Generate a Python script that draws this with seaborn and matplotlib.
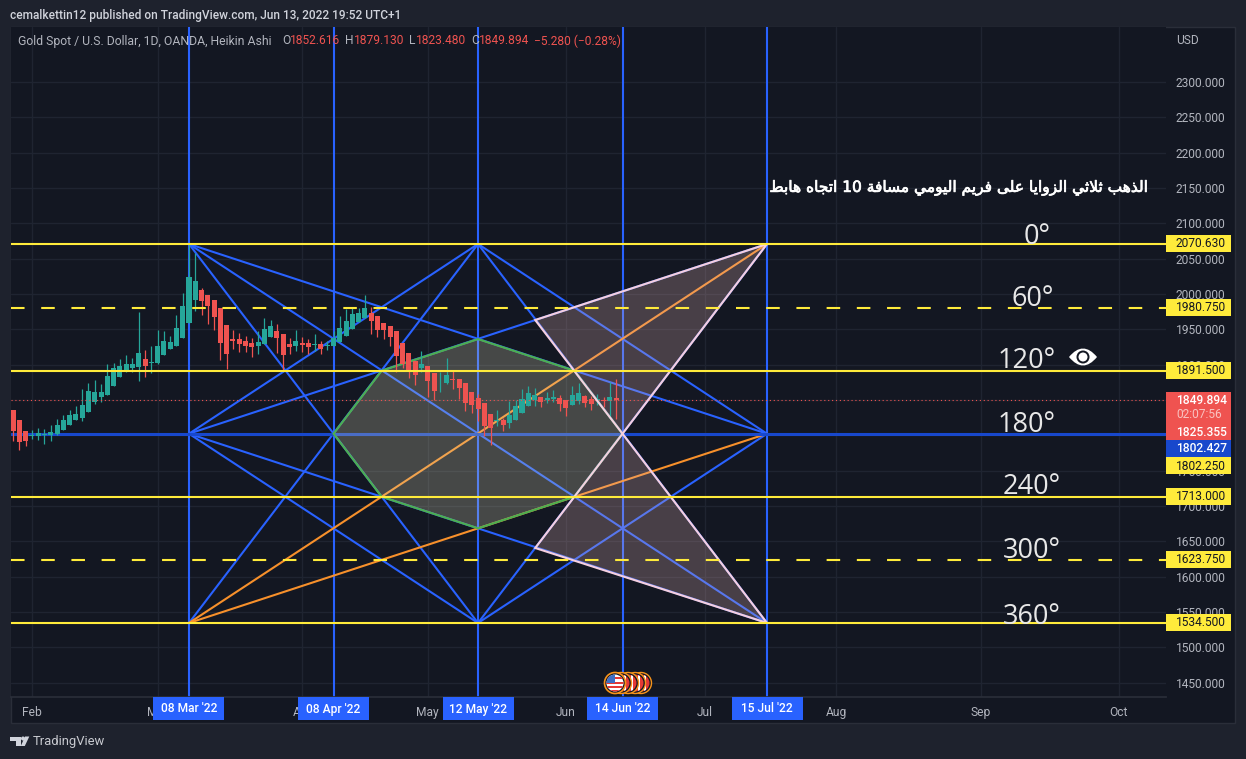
#!/usr/bin/env python
# Gold daily chart with the triple angle drawing, TradingView dark look

import pandas as pd
import seaborn as sns
import matplotlib.pyplot as plt
import matplotlib.patheffects as pe
from matplotlib.patches import Rectangle, Ellipse, Polygon, PathPatch
from matplotlib.path import Path

W, H = 1246, 759

# bar index 0 is 08 Mar '22
first_bar = -28
opens = [1835.8, 1821.7, 1806.1, 1799.5, 1799.1, 1800.5, 1800.5, 1801.9, 1807.5, 1814.6,
         1821.7, 1824.5, 1833.0, 1847.2, 1854.2, 1857.0, 1869.8, 1882.5, 1889.6, 1895.2,
         1896.7, 1908.0, 1902.3, 1902.3, 1913.6, 1922.1, 1926.3, 1937.7,
         1958.9, 1991.4, 2005.6, 1998.5, 1991.4, 1980.1, 1956.1, 1936.3, 1936.3, 1933.4, 1930.6,
         1926.3, 1929.2, 1939.1, 1947.6, 1943.3, 1929.2, 1926.3, 1930.6, 1930.6, 1927.8,
         1929.2, 1926.3, 1926.3, 1932.0, 1940.5, 1950.4, 1960.3, 1966.0, 1973.0, 1968.8,
         1958.9, 1954.6, 1947.6, 1930.6, 1916.5, 1905.1, 1895.2, 1898.1, 1888.2, 1872.6,
         1874.0, 1879.7, 1879.7, 1874.0, 1861.3, 1852.8, 1845.7, 1830.2, 1820.3, 1821.7,
         1817.4, 1821.7, 1831.6, 1841.5, 1850.0, 1854.2, 1850.0, 1851.4, 1852.8, 1850.0,
         1842.9, 1848.6, 1855.6, 1851.4, 1848.6, 1850.0, 1849.0, 1852.6]
highs = [1835.8, 1821.7, 1806.1, 1807.5, 1810.4, 1809.0, 1814.6, 1823.1, 1828.8, 1835.8,
         1841.5, 1865.5, 1874.0, 1878.3, 1872.6, 1900.9, 1902.3, 1908.0, 1913.6, 1909.4,
         1974.4, 1920.7, 1926.3, 1949.0, 1947.6, 1940.5, 1970.2, 2001.3,
         2070.6, 2057.9, 2008.4, 1998.5, 1991.4, 1980.1, 1956.1, 1949.0, 1944.8, 1940.5, 1937.7,
         1947.6, 1966.0, 1963.1, 1957.5, 1943.3, 1937.7, 1949.0, 1939.1, 1936.3, 1943.3,
         1933.4, 1933.4, 1947.6, 1968.8, 1978.7, 1981.5, 1980.1, 1998.5, 1981.5, 1968.8,
         1958.9, 1954.6, 1947.6, 1930.6, 1916.5, 1905.1, 1919.3, 1898.1, 1888.2, 1889.6,
         1909.4, 1892.4, 1879.7, 1874.0, 1861.3, 1858.4, 1845.7, 1830.2, 1835.8, 1824.5,
         1848.6, 1850.0, 1865.5, 1869.8, 1866.9, 1854.2, 1861.3, 1864.1, 1857.0, 1850.0,
         1869.8, 1874.0, 1857.0, 1855.6, 1858.4, 1854.2, 1875.4, 1879.1]
lows = [1792.0, 1779.3, 1784.9, 1794.8, 1793.4, 1787.7, 1792.0, 1800.5, 1807.5, 1814.6,
        1821.7, 1820.3, 1833.0, 1844.3, 1847.2, 1857.0, 1869.8, 1882.5, 1889.6, 1889.6,
        1876.9, 1882.5, 1888.2, 1900.9, 1913.6, 1922.1, 1926.3, 1937.7,
        1958.9, 1975.9, 1970.2, 1957.5, 1949.0, 1906.6, 1893.8, 1922.1, 1917.9, 1917.9, 1910.8,
        1915.0, 1929.2, 1939.1, 1916.5, 1891.0, 1915.0, 1919.3, 1917.9, 1915.0, 1919.3,
        1915.0, 1920.7, 1926.3, 1932.0, 1940.5, 1950.4, 1960.3, 1966.0, 1943.3, 1939.1,
        1936.3, 1926.3, 1890.0, 1895.2, 1881.1, 1871.2, 1890.0, 1854.2, 1849.9, 1861.3,
        1872.6, 1865.5, 1851.4, 1834.4, 1831.6, 1820.3, 1799.0, 1786.3, 1813.2, 1806.1,
        1810.4, 1821.7, 1831.6, 1841.5, 1841.5, 1840.1, 1845.7, 1847.1, 1834.4, 1827.3,
        1842.9, 1844.3, 1840.1, 1835.8, 1842.9, 1840.1, 1825.9, 1823.5]
closes = [1806.1, 1790.6, 1792.0, 1800.9, 1803.3, 1801.9, 1804.7, 1814.6, 1821.7, 1828.8,
          1830.2, 1842.9, 1862.7, 1861.3, 1861.3, 1883.9, 1895.2, 1898.1, 1900.9, 1900.9,
          1916.5, 1898.1, 1903.7, 1926.3, 1933.4, 1932.0, 1951.8, 1982.9,
          2024.0, 2018.3, 1990.0, 1982.9, 1967.4, 1930.6, 1915.0, 1933.4, 1929.2, 1926.3, 1925.0,
          1932.0, 1950.4, 1954.6, 1937.7, 1913.6, 1925.0, 1933.4, 1927.8, 1925.0, 1929.2,
          1922.1, 1927.8, 1937.7, 1951.8, 1961.7, 1971.6, 1973.0, 1980.1, 1961.7, 1949.0,
          1949.0, 1939.1, 1912.2, 1900.9, 1892.4, 1885.3, 1900.9, 1876.8, 1862.7, 1872.6,
          1885.3, 1878.3, 1866.9, 1845.7, 1842.9, 1837.2, 1813.2, 1810.4, 1821.7, 1814.6,
          1828.7, 1841.5, 1851.4, 1859.9, 1857.0, 1847.1, 1852.8, 1854.2, 1844.3, 1838.6,
          1857.0, 1859.9, 1845.7, 1844.3, 1851.4, 1848.1, 1854.2, 1849.9]

# angle levels
level_prices = [2070.63, 1980.75, 1891.5, 1802.25, 1713.0, 1623.75, 1534.5]
level_labels = ['0°', '60°', '120°', '180°', '240°', '300°', '360°']
level_tags = ['2070.630', '1980.750', '1891.500', '1802.250', '1713.000', '1623.750', '1534.500']
dashed_levels = [1980.75, 1623.75]
last_price = 1849.894

# anchor dates, as bar index
anchor_bars = [0, 23, 46, 69, 92]
anchor_labels = ["08 Mar '22", "08 Apr '22", "12 May '22", "14 Jun '22", "15 Jul '22"]

month_labels = ['Feb', 'Mar', 'Apr', 'May', 'Jun', 'Jul', 'Aug', 'Sep', 'Oct']
month_bars = [-25.0, -5.0, 18.0, 38.0, 60.0, 82.1, 103.0, 126.0, 148.0]
price_ticks = list(range(1450, 2350, 50))

# the star, (bar, price) pairs
top, mid, low = 2070.63, 1802.25, 1534.5
blue_segments = [((0, top), (46, low)), ((0, top), (92, low)), ((0, top), (92, mid)),
                 ((0, low), (46, top)), ((0, mid), (46, top)), ((0, mid), (92, top)),
                 ((0, mid), (46, low)), ((0, mid), (92, low)), ((46, top), (92, mid)),
                 ((46, top), (92, low)), ((46, low), (92, mid)), ((46, low), (92, top))]
orange_segments = [((0, low), (92, top)), ((0, low), (92, mid))]

hexagon = [(23, 1802.25), (30.67, 1891.5), (46, 1936.1), (61.33, 1891.5),
           (69, 1802.25), (61.33, 1713.0), (46, 1668.4), (30.67, 1713.0)]
upper_triangle = [(55.1, 1963.1), (92, 2070.63), (69, 1802.25)]
lower_triangle = [(55.1, 1640.6), (92, 1534.5), (69, 1802.25)]

title_text = 'cemalkettin12 published on TradingView.com, Jun 13, 2022 19:52 UTC+1'
arabic_note = 'الذهب ثلاثي الزوايا على فريم اليومي مسافة 10 اتجاه هابط'

GREEN, RED = '#26a69a', '#ef5350'
BLUE, YELLOW = '#2962ff', '#ffeb3b'
ORANGE, PINK = '#f7902b', '#f5cfe0'
PANE, OUTER = '#131722', '#1e222d'
TEXT = '#b2b5be'

# presentation forms run iso, final, initial, medial from these code points
AR_FORMS = {'ب': 0xFE8F, 'ت': 0xFE95, 'ث': 0xFE99, 'ج': 0xFE9D, 'س': 0xFEB1, 'ط': 0xFEC1,
            'ع': 0xFEC9, 'ف': 0xFED1, 'ق': 0xFED5, 'ل': 0xFEDD, 'م': 0xFEE1, 'ه': 0xFEE9,
            'ي': 0xFEF1, 'ا': 0xFE8D, 'ة': 0xFE93, 'ذ': 0xFEAB, 'ر': 0xFEAD, 'ز': 0xFEAF,
            'و': 0xFEED, 'ى': 0xFEEF}
AR_NO_NEXT = 'اةذرزوى'


def shape_word(word):
    '''Joins one Arabic word and returns it in drawing order, matplotlib does no shaping'''
    out = []
    i = 0
    joined = False
    while i < len(word):
        ch = word[i]
        if ch == 'ل' and word[i + 1:i + 2] == 'ا':
            out.append(chr(0xFEFC if joined else 0xFEFB))
            joined = False
            i += 2
            continue
        nxt = i + 1 < len(word) and ch not in AR_NO_NEXT
        form = (1 if joined else 0) if not nxt else (3 if joined else 2)
        out.append(chr(AR_FORMS[ch] + form))
        joined = nxt
        i += 1
    return ''.join(reversed(out))


def shape_arabic(text):
    words = [w if w.isdigit() else shape_word(w) for w in text.split(' ')]
    return ' '.join(reversed(words))


def fx(x):
    return x / W


def fy(y):
    return 1 - y / H


def box(fig, x0, y0, x1, y1, color, zorder=1, edgecolor='none'):
    r = Rectangle((fx(x0), fy(y1)), (x1 - x0) / W, (y1 - y0) / H, transform=fig.transFigure,
                  facecolor=color, edgecolor=edgecolor, zorder=zorder)
    fig.add_artist(r)
    return r


def circle(fig, x, y, r, **kw):
    c = Ellipse((fx(x), fy(y)), 2 * r / W, 2 * r / H, transform=fig.transFigure, **kw)
    fig.add_artist(c)
    return c


def label(fig, x, y, s, color=TEXT, size=8.64, ha='left', **kw):
    kw.setdefault('family', 'Roboto')
    return fig.text(fx(x), fy(y), s, color=color, fontsize=size, ha=ha, va='center', **kw)


sns.set_theme(style='dark', rc={'axes.facecolor': PANE, 'figure.facecolor': OUTER,
                                'grid.color': '#1f2431', 'grid.linewidth': 1.0,
                                'axes.grid': True, 'axes.edgecolor': '#2a2e39'})
plt.rcParams['font.family'] = ['Roboto', 'DejaVu Sans']

fig = plt.figure(figsize=(W / 100, H / 100), dpi=100)
ax = fig.add_axes([fx(11), fy(697), (1166 - 11) / W, (697 - 27) / H])
ax.set_axisbelow(True)

box(fig, 10.5, 26.5, 1235, 723, PANE, zorder=-1, edgecolor='#2a2e39')

df = pd.DataFrame({'open': opens, 'high': highs, 'low': lows, 'close': closes})
df['bar'] = [first_bar + i for i in range(len(df))]
df['top'] = df[['open', 'close']].max(axis=1)
df['bot'] = df[['open', 'close']].min(axis=1)
df['height'] = df['top'] - df['bot']
df['up'] = df['close'] >= df['open']

for up, color in [(True, GREEN), (False, RED)]:
    part = df[df['up'] == up]
    ax.vlines(part['bar'], part['low'], part['high'], color=color, linewidth=0.9, zorder=4)
    sns.barplot(data=part, x='bar', y='height', bottom=part['bot'].values, color=color,
                native_scale=True, saturation=1, width=0.8, errorbar=None, linewidth=0,
                zorder=4, ax=ax)

# drawings, the fills go over the thin lines but under the candles
for bar in anchor_bars:
    ax.axvline(bar, color=BLUE, linewidth=1.5, zorder=2)

rows = []
for n, seg in enumerate(blue_segments):
    rows += [{'seg': n, 'bar': seg[0][0], 'price': seg[0][1]}, {'seg': n, 'bar': seg[1][0], 'price': seg[1][1]}]
sns.lineplot(data=pd.DataFrame(rows), x='bar', y='price', units='seg', estimator=None, sort=False,
             color=BLUE, linewidth=1.5, zorder=2, legend=False, ax=ax)
rows = []
for n, seg in enumerate(orange_segments):
    rows += [{'seg': n, 'bar': seg[0][0], 'price': seg[0][1]}, {'seg': n, 'bar': seg[1][0], 'price': seg[1][1]}]
sns.lineplot(data=pd.DataFrame(rows), x='bar', y='price', units='seg', estimator=None, sort=False,
             color=ORANGE, linewidth=1.5, zorder=2.2, legend=False, ax=ax)
ax.axhline(mid, color='#1848cc', linewidth=2.2, zorder=2.3)

ax.add_patch(Polygon(hexagon, closed=True, facecolor='#e0dcb8', alpha=0.25, edgecolor='none', zorder=3))
for tri in [upper_triangle, lower_triangle]:
    ax.add_patch(Polygon(tri, closed=True, facecolor='#e7b7b6', alpha=0.25, edgecolor='none', zorder=3))
ax.add_patch(Polygon(hexagon, closed=True, facecolor='none', edgecolor='#4caf50', linewidth=1.5, zorder=3.5))
for tri in [upper_triangle, lower_triangle]:
    ax.add_patch(Polygon(tri, closed=True, facecolor='none', edgecolor=PINK, linewidth=1.5, zorder=5))

for price in level_prices:
    if price == mid:
        continue
    if price in dashed_levels:
        ax.axhline(price, color=YELLOW, linewidth=1.5, dashes=(6.5, 8), zorder=5)
    else:
        ax.axhline(price, color=YELLOW, linewidth=1.5, zorder=5)
ax.axhline(last_price, color=RED, linewidth=0.8, dashes=(1, 2.5), zorder=4.5)

ax.set_xlim(-28.33, 155.5)
ax.set_ylim(1429.8, 2377.6)
ax.set_xlabel('')
ax.set_ylabel('')
ax.set_xticks(month_bars)
ax.set_xticklabels(month_labels)
ax.set_yticks(price_ticks)
ax.set_yticklabels(['%.3f' % p for p in price_ticks])
ax.yaxis.tick_right()
ax.tick_params(axis='y', length=0, pad=7.2, labelsize=8.64, labelcolor=TEXT)
ax.tick_params(axis='x', length=0, pad=6.5, labelsize=8.64, labelcolor=TEXT)
for side in ['top', 'left', 'right']:
    ax.spines[side].set_visible(False)
ax.spines['bottom'].set_color('#2a2e39')

fig.canvas.draw()

# blue date tags
for bar, text in zip(anchor_bars, anchor_labels):
    cx = ax.transData.transform((bar, 0))[0]
    box(fig, cx - 35.5, 696.5, cx + 35.5, 720, BLUE)
    label(fig, cx, 709, text, color='white', ha='center', fontweight='medium')

# price tags on the level lines
for price, text in zip(level_prices, level_tags):
    if price == mid:
        continue
    y = H - ax.transData.transform((0, price))[1]
    box(fig, 1166, y - 8.5, 1231, y + 8.5, YELLOW)
    label(fig, 1176, y, text, color='#131722')
box(fig, 1166, 392, 1231, 440, RED)
label(fig, 1176, 401, '1849.894', color='white', fontweight='medium')
label(fig, 1176, 415, '02:07:56', color='#f9c2c0')
label(fig, 1176, 432, '1825.355', color='white', fontweight='medium')
box(fig, 1166, 440, 1231, 457, '#1848cc')
label(fig, 1176, 449, '1802.427', color='white', fontweight='medium')
box(fig, 1166, 457, 1231, 474, YELLOW)
label(fig, 1176, 466, '1802.250', color='#131722')

# angle labels
for text, x, y in zip(level_labels, [1037, 1033, 1027, 1027, 1032, 1032, 1032],
                      [237, 299, 361, 425, 487, 551, 617]):
    label(fig, x, y, text, color='#e8e8e8', size=19.5, ha='center', family='Open Sans')

# eye next to 120
eye = Path([(fx(1069), fy(357)), (fx(1083), fy(340)), (fx(1097), fy(357)),
            (fx(1083), fy(374)), (fx(1069), fy(357))],
           [Path.MOVETO, Path.CURVE3, Path.CURVE3, Path.CURVE3, Path.CURVE3])
fig.add_artist(PathPatch(eye, transform=fig.transFigure, facecolor='white', edgecolor='none'))
circle(fig, 1083, 357, 6.5, facecolor=PANE, edgecolor='none', zorder=2)
circle(fig, 1083, 357, 4.5, facecolor='white', edgecolor='none', zorder=2)

note = label(fig, 1148, 188, shape_arabic(arabic_note), color='white', size=11.1, ha='right',
             family='DejaVu Sans')
note.set_path_effects([pe.withStroke(linewidth=0.5, foreground='white')])

# header and legend row
label(fig, 10, 15, title_text, color='#d1d4dc', size=8.53, fontweight='medium')
label(fig, 18, 41, 'Gold Spot / U.S. Dollar, 1D, OANDA, Heikin Ashi', size=8.8)
for x, s, c in [(282, 'O', TEXT), (290, '1852.616', RED), (345, 'H', TEXT), (354, '1879.130', RED),
                (409, 'L', TEXT), (416, '1823.480', RED), (471, 'C', TEXT), (479, '1849.894', RED),
                (534, '−5.280 (−0.28%)', RED)]:
    label(fig, x, 41, s, color=c, size=8.64)
label(fig, 1176, 41, 'USD', size=8.64)

# event flags, stacked from the right
for x in [641, 635, 628, 621]:
    circle(fig, x, 683, 10.5, facecolor='#131722', edgecolor='#f7931a', linewidth=1.0, zorder=2)
    d = circle(fig, x, 683, 8.5, facecolor='#e53935', edgecolor='none', zorder=2)
    s = box(fig, x + 3, 674, x + 5, 692, 'white', zorder=2)
    s.set_clip_path(d)
circle(fig, 615, 683, 10.5, facecolor='#131722', edgecolor='#f7931a', linewidth=1.2, zorder=3)
disc = circle(fig, 615, 683, 8.5, facecolor='white', edgecolor='none', zorder=3)
for y in [677, 681.5, 686, 690]:
    s = box(fig, 604, y, 626, y + 2.2, '#e53935', zorder=3)
    s.set_clip_path(disc)
c = box(fig, 604, 673, 615, 683, '#3d6fc4', zorder=3)
c.set_clip_path(disc)

# footer
LOGO = '#d1d4dc'
fig.add_artist(Polygon([(fx(10), fy(736.5)), (fx(20.5), fy(736.5)), (fx(20.5), fy(746)), (fx(15.5), fy(746)),
                        (fx(15.5), fy(741)), (fx(10), fy(741))], transform=fig.transFigure,
                       facecolor=LOGO, edgecolor='none'))
fig.add_artist(Polygon([(fx(20.8), fy(746)), (fx(25), fy(736.5)), (fx(29.3), fy(736.5)), (fx(24.8), fy(746))],
                       transform=fig.transFigure, facecolor=LOGO, edgecolor='none'))
circle(fig, 23, 738.5, 2, facecolor=LOGO, edgecolor='none')
label(fig, 33, 741, 'TradingView', color='#c8cad0', size=9.4)

fig.savefig('out.png', dpi=100, facecolor=OUTER)
print('End of program')
